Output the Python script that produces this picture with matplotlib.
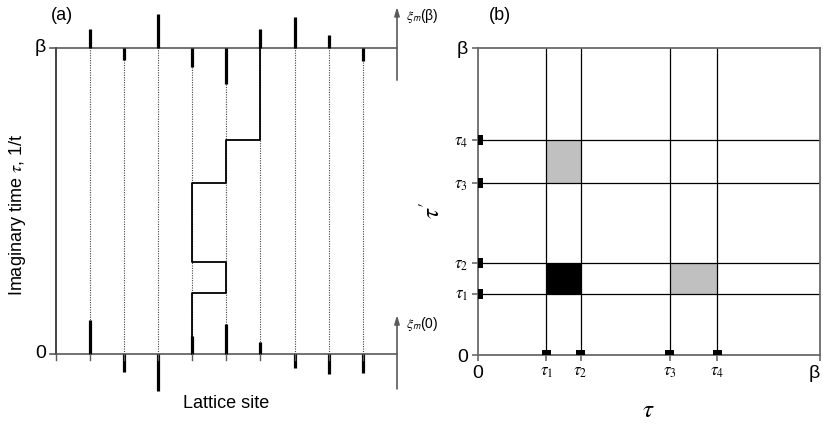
import matplotlib
matplotlib.use('Agg')
import matplotlib.pyplot as plt
from matplotlib.patches import Rectangle

plt.rcParams['font.family'] = ['Liberation Sans', 'DejaVu Sans']
plt.rcParams['mathtext.fontset'] = 'stix'

# ---- data ----
sites = [1, 2, 3, 4, 5, 6, 7, 8, 9]
xi_beta = [0.55, -0.35, 1.0, -0.55, -1.05, 0.55, 0.9, 0.38, -0.38]   # xi_m(beta)
xi_zero = [1.0, -0.53, -1.08, 0.53, 0.88, 0.35, -0.41, -0.59, -0.56]  # xi_m(0)
hop_times = [0.2, 0.3, 0.56, 0.70]        # tau_1 .. tau_4 (units of beta)
path_sites = [4, 5, 4, 5, 6]              # worldline site between hops
tau_labels = [r'$\tau_1$', r'$\tau_2$', r'$\tau_3$', r'$\tau_4$']
# filled cells of panel (b): (x index pair, y index pair, colour)
cells = [((0, 1), (0, 1), 'black'), ((2, 3), (0, 1), '#c0c0c0'), ((0, 1), (2, 3), '#c0c0c0')]

W, H = 823, 429
fig = plt.figure(figsize=(W / 100, H / 100), dpi=100)


def px_axes(x0, y0, x1, y1):
    return fig.add_axes([x0 / W, 1 - y1 / H, (x1 - x0) / W, (y1 - y0) / H])


# ---------------- panel (a) ----------------
axa = px_axes(55.5, 48, 397, 354)
axa.set_xlim(0, 10)
axa.set_ylim(0, 1)
axa.axis('off')
gray = '#5a5a5a'
spike_scale = 34 / 306

for s in sites:
    axa.plot([s, s], [0, 1], ls=(0, (1, 1.2)), lw=0.8, color='#444444', clip_on=False)
axa.plot([0, 10], [1, 1], color=gray, lw=1.2, clip_on=False)
axa.plot([0, 10], [0, 0], color=gray, lw=1.2, clip_on=False)
axa.plot([0, 0], [0, 1], color='#222222', lw=1.2, clip_on=False)

# worldline
xs, ys = [path_sites[0]], [0]
for i, t in enumerate(hop_times):
    xs += [path_sites[i], path_sites[i + 1]]
    ys += [t, t]
xs.append(path_sites[-1])
ys.append(1)
axa.plot(xs, ys, color='black', lw=1.3, clip_on=False)

# spikes
for s, v in zip(sites, xi_beta):
    axa.plot([s, s], [1, 1 + v * spike_scale], color='black', lw=2.3,
             solid_capstyle='butt', clip_on=False)
for s, v in zip(sites, xi_zero):
    axa.plot([s, s], [0, v * spike_scale], color='black', lw=2.3,
             solid_capstyle='butt', clip_on=False)
    axa.plot([s, s], [0, -0.018], color=gray, lw=1.0, clip_on=False)
axa.plot([0, 0], [0, -0.018], color=gray, lw=1.0, clip_on=False)

# xi arrows
for base, lo, hi, arg in [(1, 0.895, 1.134, '(β)'), (0, -0.114, 0.127, '(0)')]:
    axa.annotate('', xy=(10, hi), xytext=(10, lo), annotation_clip=False,
                 arrowprops=dict(arrowstyle='-|>,head_length=0.5,head_width=0.15',
                                 color=gray, lw=1.2, shrinkA=0, shrinkB=0))
    axa.text(10.25, hi - 0.03, r'$\xi_\mathsf{m}$' + arg, fontsize=10,
             ha='left', va='center')

for y, lab in [(1, 'β'), (0, '0')]:
    axa.plot([-0.17, 0], [y, y], color=gray, lw=1.2, clip_on=False)
    axa.text(-0.28, y, lab, fontsize=14, ha='right', va='center')

fig.text(62 / W, 1 - 15 / H, '(a)', fontsize=13, ha='center', va='center')
fig.text(18 / W, 1 - 215 / H, r'Imaginary time $\tau$, 1/t', fontsize=13,
         rotation=90, ha='center', va='center')
fig.text(226 / W, 1 - 404 / H, 'Lattice site', fontsize=13, ha='center', va='center')

# ---------------- panel (b) ----------------
axb = px_axes(478, 48, 820, 355)
axb.set_xlim(0, 1)
axb.set_ylim(0, 1)
for sp in axb.spines.values():
    sp.set_color('#6a6a6a')
    sp.set_linewidth(1.3)

for t in hop_times:
    axb.axvline(t, color='black', lw=0.9, zorder=2)
    axb.axhline(t, color='black', lw=0.9, zorder=2)
for (i0, i1), (j0, j1), c in cells:
    axb.add_patch(Rectangle((hop_times[i0], hop_times[j0]),
                            hop_times[i1] - hop_times[i0], hop_times[j1] - hop_times[j0],
                            facecolor=c, edgecolor='none', zorder=1))

tick_pos = [0] + hop_times + [1]
axb.set_xticks(tick_pos, ['0'] + tau_labels + ['β'])
axb.set_yticks(tick_pos, ['0'] + tau_labels + ['β'])
axb.tick_params(length=4, width=1.2, color='#6a6a6a', pad=3)
for lbls in (axb.get_xticklabels(), axb.get_yticklabels()):
    for k, lbl in enumerate(lbls):
        lbl.set_fontsize(14 if k in (0, len(lbls) - 1) else 12)
xl = axb.get_xticklabels()
xl[-1].set_horizontalalignment('right')
xl[-1].set_x(1.012)

# black markers on the axes
for t in hop_times:
    axb.add_patch(Rectangle((t - 0.012, 0.0), 0.024, 0.017, facecolor='black',
                            edgecolor='none', clip_on=False, zorder=5))
    axb.add_patch(Rectangle((0.0, t - 0.016), 0.016, 0.032, facecolor='black',
                            edgecolor='none', clip_on=False, zorder=5))

fig.text(500 / W, 1 - 15 / H, '(b)', fontsize=13, ha='center', va='center')
fig.text(648 / W, 1 - 410 / H, r'$\tau$', fontsize=18, ha='center', va='center')
fig.text(432 / W, 1 - 210 / H, r"$\tau'$", fontsize=18, rotation=90,
         ha='center', va='center')

fig.savefig('out.png', dpi=100)
